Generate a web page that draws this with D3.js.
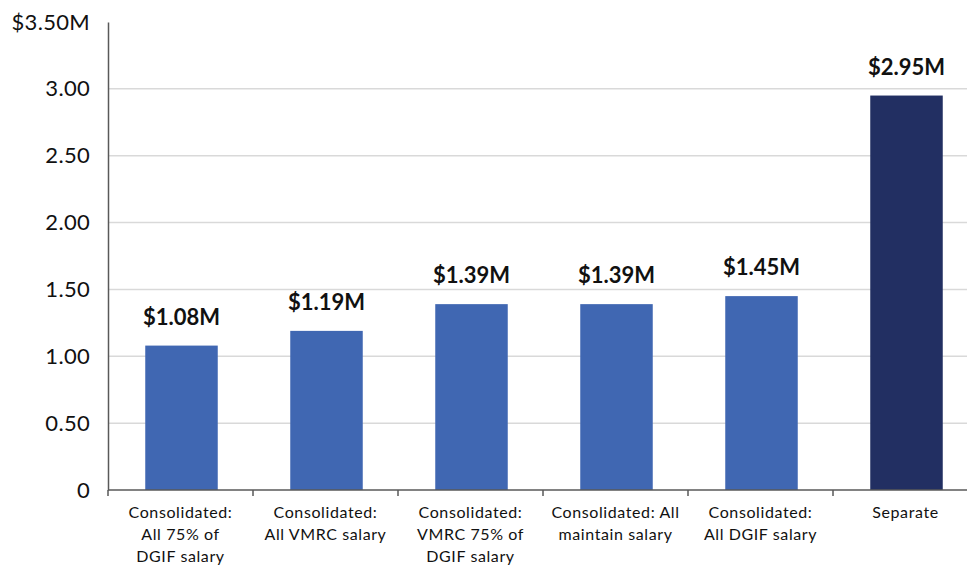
<!DOCTYPE html>
<html>
<head>
<meta charset="utf-8">
<script src="https://cdn.jsdelivr.net/npm/d3@7"></script>
<style>
  html, body { margin: 0; padding: 0; background: #fff; }
  svg { display: block; }
  text { font-family: Lato, "Open Sans", sans-serif; }
</style>
</head>
<body>
<svg id="chart" width="967" height="565"></svg>
<script>
// Scenario categories (each label split into display lines)
const categories = [
  ["Consolidated:", "All 75% of", "DGIF salary"],
  ["Consolidated:", "All VMRC salary"],
  ["Consolidated:", "VMRC 75% of", "DGIF salary"],
  ["Consolidated: All", "maintain salary"],
  ["Consolidated:", "All DGIF salary"],
  ["Separate"]
];
// Cost in millions of dollars
const costs = [1.08, 1.19, 1.39, 1.39, 1.45, 2.95];
const valueLabels = ["$1.08M", "$1.19M", "$1.39M", "$1.39M", "$1.45M", "$2.95M"];
const yTicks = [0, 0.5, 1.0, 1.5, 2.0, 2.5, 3.0, 3.5];
const yTickLabels = ["0", "0.50", "1.00", "1.50", "2.00", "2.50", "3.00", "$3.50M"];

const svg = d3.select("#chart");
const plotLeft = 108, plotRight = 978, plotTop = 22, plotBottom = 490;

const x = d3.scaleBand().domain(d3.range(categories.length)).range([plotLeft + 1, plotRight + 1]).paddingInner(0.5).paddingOuter(0.25);
const xBand = d3.scaleBand().domain(d3.range(categories.length)).range([plotLeft, plotRight]);
const y = d3.scaleLinear().domain([0, 3.5]).range([plotBottom, plotTop]);

// Horizontal gridlines
svg.append("g").selectAll("line")
  .data(yTicks.filter(t => t > 0 && t < 3.5))
  .join("line")
  .attr("x1", plotLeft).attr("x2", plotRight)
  .attr("y1", d => y(d)).attr("y2", d => y(d))
  .attr("stroke", "#d9d9d9").attr("stroke-width", 1.5);

// Bars
svg.append("g").selectAll("rect")
  .data(costs)
  .join("rect")
  .attr("x", (d, i) => x(i))
  .attr("width", x.bandwidth())
  .attr("y", d => y(d))
  .attr("height", d => y(0) - y(d))
  .attr("fill", (d, i) => i === costs.length - 1 ? "#222f62" : "#4067b2");

// Value labels above bars
svg.append("g").selectAll("text")
  .data(costs)
  .join("text")
  .attr("x", (d, i) => x(i) + x.bandwidth() / 2)
  .attr("y", d => y(d) - 21)
  .attr("text-anchor", "middle")
  .attr("font-size", 22)
  .attr("font-weight", "bold")
  .attr("fill", "#111")
  .text((d, i) => valueLabels[i]);

// Y axis
const yAxis = d3.axisLeft(y).tickValues(yTicks).tickSize(0).tickPadding(18)
  .tickFormat((d, i) => yTickLabels[i]);
const gy = svg.append("g").attr("transform", `translate(${plotLeft},0)`).call(yAxis);
gy.select(".domain").attr("stroke", "#595959").attr("stroke-width", 1.5);
gy.selectAll("text").attr("font-size", 22).attr("fill", "#111")
  .attr("letter-spacing", 0.3)
  .attr("font-family", "Lato, 'Open Sans', sans-serif");

// X axis with ticks at band boundaries
const gx = svg.append("g");
gx.append("line")
  .attr("x1", plotLeft).attr("x2", plotRight)
  .attr("y1", plotBottom).attr("y2", plotBottom)
  .attr("stroke", "#595959").attr("stroke-width", 1.5);
gx.selectAll("line.tick")
  .data(d3.range(categories.length + 1))
  .join("line")
  .attr("class", "tick")
  .attr("x1", i => plotLeft + i * xBand.bandwidth())
  .attr("x2", i => plotLeft + i * xBand.bandwidth())
  .attr("y1", plotBottom).attr("y2", plotBottom + 6)
  .attr("stroke", "#595959").attr("stroke-width", 1.5);

// Category labels
const cat = gx.selectAll("text.cat")
  .data(categories)
  .join("text")
  .attr("class", "cat")
  .attr("text-anchor", "middle")
  .attr("font-size", 16)
  .attr("letter-spacing", 0.6)
  .attr("fill", "#111")
  .attr("x", (d, i) => xBand(i) + xBand.bandwidth() / 2)
  .attr("y", plotBottom + 28);
cat.selectAll("tspan")
  .data(d => d)
  .join("tspan")
  .attr("x", function() { return this.parentNode.getAttribute("x"); })
  .attr("dy", (d, j) => j === 0 ? 0 : 22)
  .text(d => d);
</script>
</body>
</html>
